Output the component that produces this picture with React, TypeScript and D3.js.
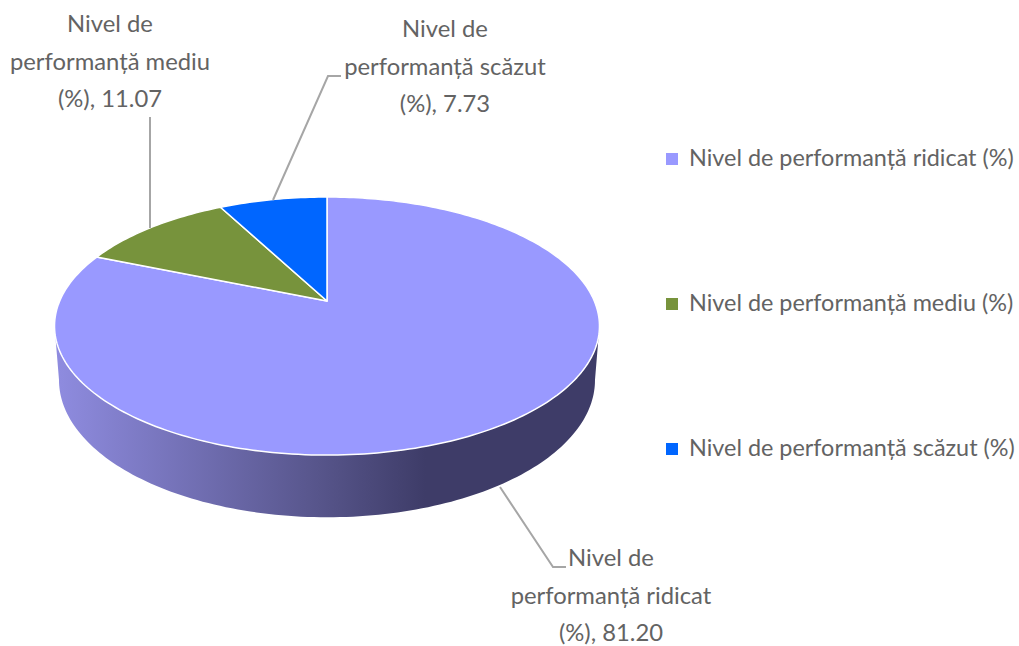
import * as d3 from "d3";

const categories = ["Nivel de performanță ridicat", "Nivel de performanță mediu", "Nivel de performanță scăzut"];
const values = [81.2, 11.07, 7.73];
const colors = ["#9999FF", "#77933C", "#0066FF"];
const labelLines = [
  ["Nivel de", "performanță ridicat", "(%), 81.20"],
  ["Nivel de", "performanță mediu", "(%), 11.07"],
  ["Nivel de", "performanță scăzut", "(%), 7.73"],
];

const width = 1019;
const height = 646;
const font = "Lato, 'Noto Sans', sans-serif";
const textColor = "#636363";

// tilted disc: perspective squeezes the far half, so the apex sits above the ellipse centre
const persp = 0.194;
const topLevel = { cx: 327, cy: 301, a: 267.3, b: 124.2 };
const baseLevel = { cx: 327, cy: 353.5, a: 262.9, b: 132 };

type Level = typeof topLevel;

function project(level: Level, angle: number): [number, number] {
  const u = Math.sin(angle);
  const v = Math.cos(angle);
  const w = 1 + persp * v;
  return [level.cx + (level.a * u) / w, level.cy - (level.b * v) / w];
}

function sweep(level: Level, a0: number, a1: number) {
  const n = Math.max(2, Math.ceil(Math.abs(a1 - a0) / 0.02));
  return d3.range(n + 1).map((i) => project(level, a0 + ((a1 - a0) * i) / n));
}

const line = d3.line();
const pie = d3.pie<number>().sort(null).value((d) => d);
const slices = pie(values);

// the wall runs between the two points where the rim is widest
const edge = Math.acos(-persp);
const wallPoints = [
  ...sweep(topLevel, edge, 2 * Math.PI - edge),
  ...sweep(baseLevel, 2 * Math.PI - edge, edge),
];

const legendY = d3.scalePoint<string>().domain(categories).range([159, 449]);

// leader lines, in the same order as the categories
const leaders: [number, number][][] = [
  [[500, 487], [553, 567], [566, 567]],
  [[150, 228], [150, 117]],
  [[273, 200], [328, 76], [341, 76]],
];
const labelX = [611, 110, 445];
const labelY = [566, 32, 37];
const labelStep = 37.5;

export default function App() {
  return (
    <svg width={width} height={height} style={{ position: "absolute", left: 0, top: 0, background: "#fff" }}>
      <defs>
        <linearGradient id="wall" gradientUnits="userSpaceOnUse" x1={55} x2={600} y1={0} y2={0}>
          <stop offset="0" stopColor="#8F8CE0" />
          <stop offset="0.5" stopColor="#555388" />
          <stop offset="0.68" stopColor="#3E3C68" />
          <stop offset="1" stopColor="#3E3C68" />
        </linearGradient>
      </defs>

      <path d={line(wallPoints) + "Z"} fill="url(#wall)" />

      {slices.map((s, i) => (
        <path
          key={categories[i]}
          d={line([[topLevel.cx, topLevel.cy], ...sweep(topLevel, s.startAngle, s.endAngle)]) + "Z"}
          fill={colors[i]}
          stroke="#fff"
          strokeWidth={1.5}
          strokeLinejoin="round"
        />
      ))}

      {leaders.map((pts, i) => (
        <path key={i} d={line(pts) ?? ""} fill="none" stroke="#A6A6A6" strokeWidth={2} />
      ))}

      {labelLines.map((lines, i) =>
        lines.map((t, j) => (
          <text
            key={t + i}
            x={labelX[i]}
            y={labelY[i] + j * labelStep}
            textAnchor="middle"
            fontFamily={font}
            fontSize={23.8}
            fill={textColor}
          >
            {t}
          </text>
        ))
      )}

      {categories.map((c, i) => (
        <g key={c}>
          <rect x={666} y={(legendY(c) ?? 0) - 6} width={12} height={12} fill={colors[i]} />
          <text x={689} y={(legendY(c) ?? 0) + 7} fontFamily={font} fontSize={23.4} fill={textColor}>
            {c + " (%)"}
          </text>
        </g>
      ))}
    </svg>
  );
}
